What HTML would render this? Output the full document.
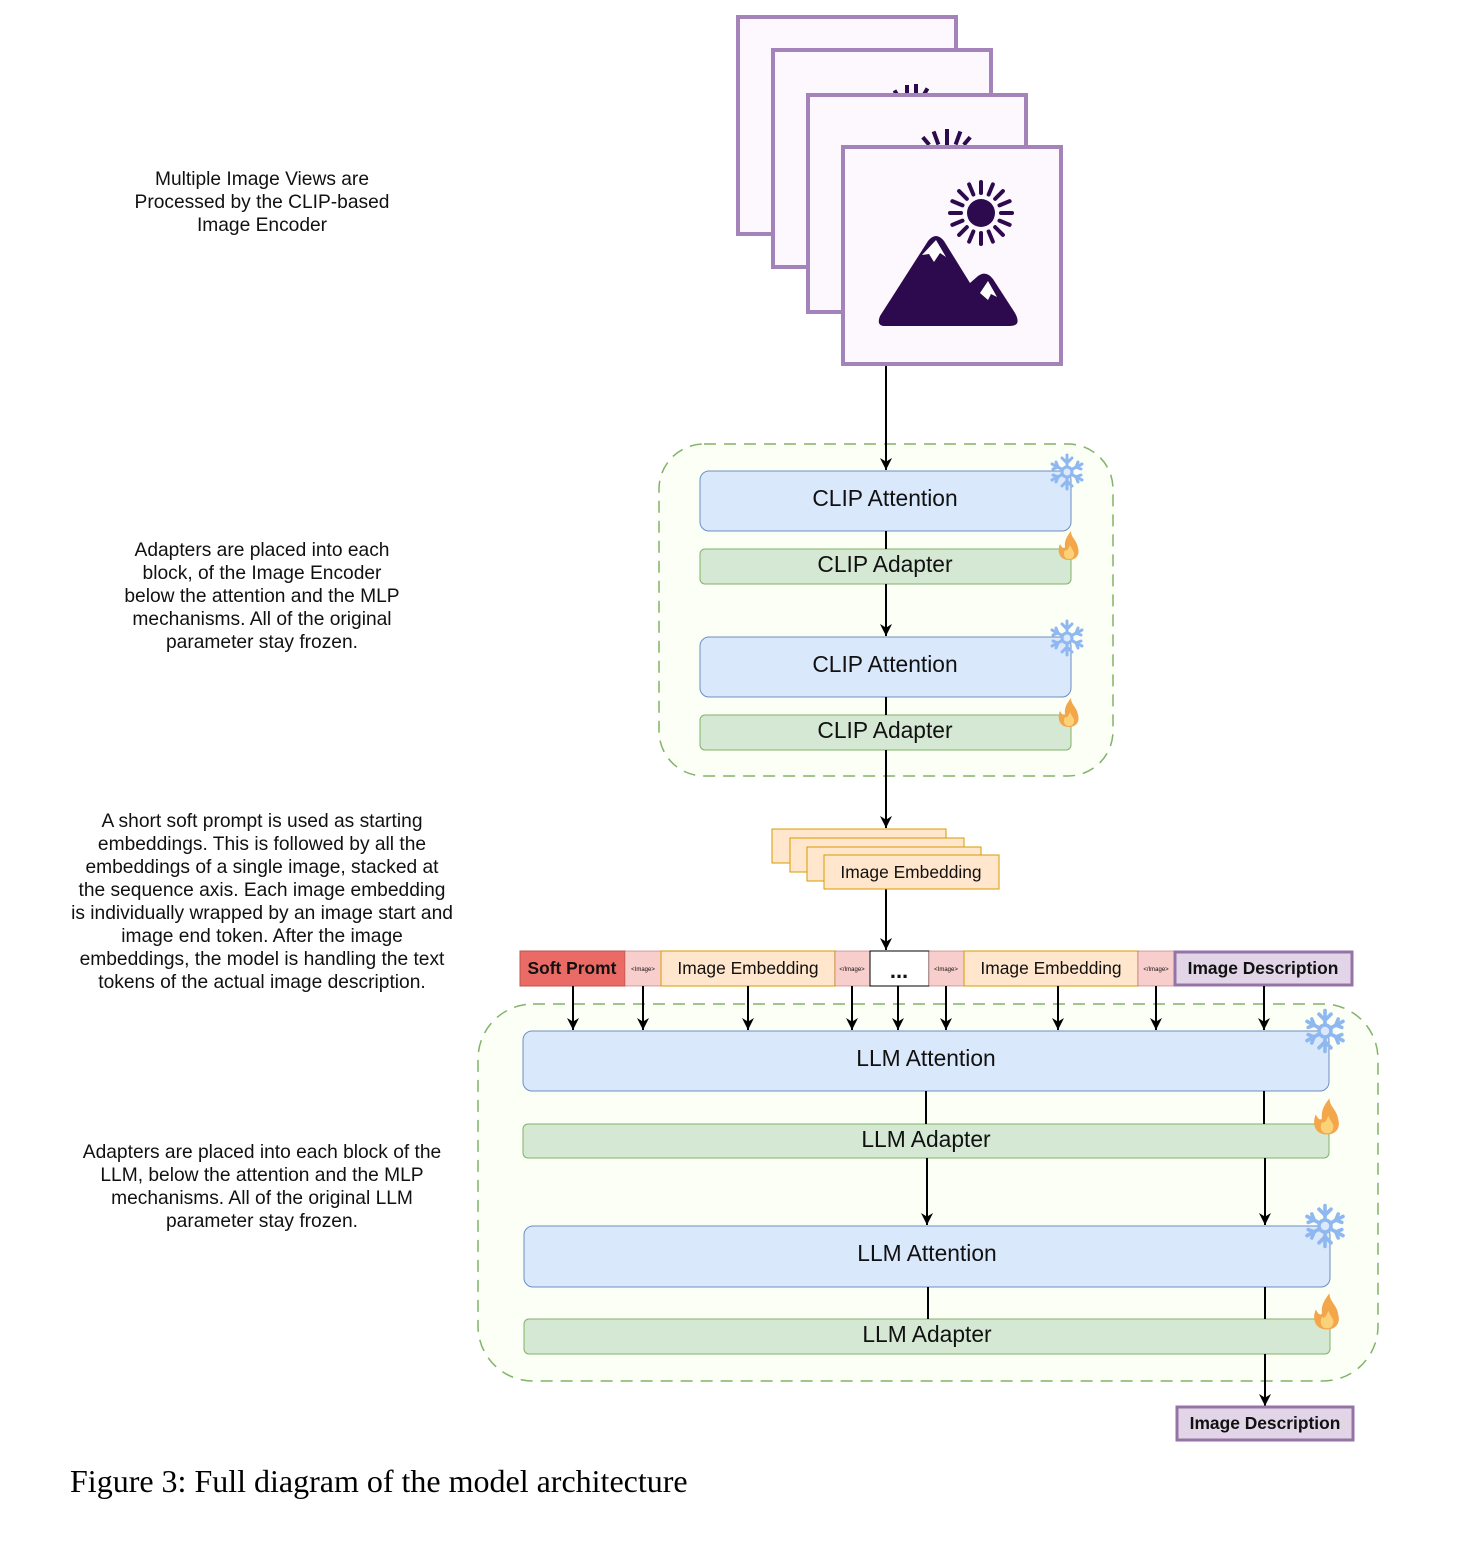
<!DOCTYPE html>
<html><head><meta charset="utf-8"><style>
body{margin:0;background:#fff;}
svg{display:block}
text{font-family:"Liberation Sans",sans-serif;}
</style></head><body>
<svg width="1480" height="1542" viewBox="0 0 1480 1542" xmlns="http://www.w3.org/2000/svg">
<defs>
<marker id="a" markerWidth="12" markerHeight="12" refX="10" refY="5" orient="auto" markerUnits="userSpaceOnUse" viewBox="0 0 10 10">
<path d="M0,0 L10,5 L0,10 L3,5 Z" fill="#000"/>
</marker>
<g id="snow" stroke="#8fb8f0" stroke-width="3" fill="none" stroke-linecap="round">
<line x1="0" y1="-17" x2="0" y2="17"/><line x1="-15" y1="-8" x2="15" y2="8"/><line x1="-15" y1="8" x2="15" y2="-8"/>
<path d="M-5,-14 L0,-9 L5,-14 M-5,14 L0,9 L5,14 M-14,-3 L-9,-5 L-11,-10 M14,3 L9,5 L11,10 M-14,3 L-9,5 L-11,10 M14,-3 L9,-5 L11,-10"/>
<circle r="5" fill="#dce8fb"/>
</g>
<g id="fire">
<path d="M0,14 C-10,14 -12,5 -9,-2 C-7,2 -5,3 -4,1 C-5,-6 -1,-11 2,-15 C2,-8 8,-6 9,2 C11,9 7,14 0,14 Z" fill="#f3a64a"/>
<path d="M0,13 C-5,13 -6,8 -4,4 C-2,6 0,2 1,-1 C3,4 6,6 5,9 C4,12 3,13 0,13 Z" fill="#fbd27a"/>
</g>
<g id="img">
<rect x="0" y="0" width="218" height="217" fill="#fdf8fd" stroke="#a383b9" stroke-width="4"/>
</g>
</defs>

<g font-size="19.2" text-anchor="middle" fill="#111">
<text x="262" y="185">Multiple Image Views are</text>
<text x="262" y="208">Processed by the CLIP-based</text>
<text x="262" y="231">Image Encoder</text>
<text x="262" y="556">Adapters are placed into each</text>
<text x="262" y="579">block, of the Image Encoder</text>
<text x="262" y="602">below the attention and the MLP</text>
<text x="262" y="625">mechanisms. All of the original</text>
<text x="262" y="648">parameter stay frozen.</text>
<text x="262" y="827">A short soft prompt is used as starting</text>
<text x="262" y="850">embeddings. This is followed by all the</text>
<text x="262" y="873">embeddings of a single image, stacked at</text>
<text x="262" y="896">the sequence axis. Each image embedding</text>
<text x="262" y="919">is individually wrapped by an image start and</text>
<text x="262" y="942">image end token. After the image</text>
<text x="262" y="965">embeddings, the model is handling the text</text>
<text x="262" y="988">tokens of the actual image description.</text>
<text x="262" y="1158">Adapters are placed into each block of the</text>
<text x="262" y="1181">LLM, below the attention and the MLP</text>
<text x="262" y="1204">mechanisms. All of the original LLM</text>
<text x="262" y="1227">parameter stay frozen.</text>
</g>

<use href="#img" x="738" y="17"/>
<use href="#img" x="773" y="50"/>
<g fill="#2d0a4e"><rect x="894" y="90" width="4" height="6" transform="rotate(-30 896 93)"/><rect x="905" y="85" width="4" height="10"/><rect x="914" y="84" width="4" height="11"/><rect x="924" y="88" width="4" height="7" transform="rotate(30 926 91)"/></g>
<use href="#img" x="808" y="95"/>
<g fill="#2d0a4e"><rect x="924" y="136" width="4" height="10" transform="rotate(-40 926 141)"/><rect x="934" y="131" width="4" height="14" transform="rotate(-20 936 138)"/><rect x="945" y="129" width="4" height="16"/><rect x="956" y="131" width="4" height="14" transform="rotate(20 958 138)"/><rect x="965" y="136" width="4" height="10" transform="rotate(40 967 141)"/></g>
<use href="#img" x="843" y="147"/>
<g transform="translate(981,213)" stroke="#2d0a4e" stroke-width="4" stroke-linecap="round">
<circle r="14" fill="#2d0a4e" stroke="none"/>
<g id="ray"><line x1="0" y1="-20" x2="0" y2="-31"/></g>
<use href="#ray" transform="rotate(22.5)"/><use href="#ray" transform="rotate(45)"/><use href="#ray" transform="rotate(67.5)"/><use href="#ray" transform="rotate(90)"/><use href="#ray" transform="rotate(112.5)"/><use href="#ray" transform="rotate(135)"/><use href="#ray" transform="rotate(157.5)"/><use href="#ray" transform="rotate(180)"/><use href="#ray" transform="rotate(202.5)"/><use href="#ray" transform="rotate(225)"/><use href="#ray" transform="rotate(247.5)"/><use href="#ray" transform="rotate(270)"/><use href="#ray" transform="rotate(292.5)"/><use href="#ray" transform="rotate(315)"/><use href="#ray" transform="rotate(337.5)"/>
</g>
<path d="M885,326 Q876,326 880,316 L928,241 Q936,231 944,241 L970,283 L978,276 Q986,270 993,279 L1015,313 Q1022,326 1010,326 Z" fill="#2d0a4e"/>
<path d="M922,255 L936,240 L946,257 L940,253 L934,262 L929,254 Z" fill="#fff"/>
<path d="M980,293 L988,281 L997,297 L991,294 L988,300 Z" fill="#fff"/>

<rect x="659" y="444" width="454" height="332" rx="45" fill="#fbfff6" stroke="#82b366" stroke-width="1.5" stroke-dasharray="12,8"/>
<g stroke="#000" stroke-width="2" fill="none">
<line x1="886" y1="366" x2="886" y2="470" marker-end="url(#a)"/>
</g>
<rect x="700" y="471" width="371" height="60" rx="9" fill="#dae8fc" stroke="#6c8ebf"/>
<rect x="700" y="549" width="371" height="35" rx="5" fill="#d5e8d4" stroke="#82b366"/>
<rect x="700" y="637" width="371" height="60" rx="9" fill="#dae8fc" stroke="#6c8ebf"/>
<rect x="700" y="715" width="371" height="35" rx="5" fill="#d5e8d4" stroke="#82b366"/>
<g font-size="22.8" text-anchor="middle" fill="#111">
<text x="885" y="506">CLIP Attention</text><text x="885" y="572">CLIP Adapter</text>
<text x="885" y="672">CLIP Attention</text><text x="885" y="738">CLIP Adapter</text>
</g>
<use href="#snow" x="1067" y="472"/><use href="#fire" x="1069" y="546"/>
<use href="#snow" x="1067" y="638"/><use href="#fire" x="1069" y="713"/>
<g stroke="#000" stroke-width="2" fill="none">
<line x1="886" y1="531" x2="886" y2="549"/>
<line x1="886" y1="584" x2="886" y2="636" marker-end="url(#a)"/>
<line x1="886" y1="697" x2="886" y2="715"/>
<line x1="886" y1="750" x2="886" y2="828" marker-end="url(#a)"/>
<line x1="886" y1="889" x2="886" y2="950" marker-end="url(#a)"/>
</g>

<g fill="#ffe6cc" stroke="#d79b00" stroke-width="1">
<rect x="772" y="829" width="174" height="34"/>
<rect x="790" y="838" width="174" height="34"/>
<rect x="807" y="847" width="174" height="34"/>
<rect x="824" y="855" width="175" height="34"/>
</g>
<text x="911" y="878" font-size="17.4" text-anchor="middle" fill="#111">Image Embedding</text>

<rect x="520" y="951" width="105" height="35" fill="#ea6b66" stroke="#b85450"/>
<rect x="625" y="951" width="36" height="35" fill="#f8cecc" stroke="#b85450" stroke-width="0.5"/>
<rect x="661" y="951" width="174" height="35" fill="#ffe6cc" stroke="#d79b00" stroke-width="1"/>
<rect x="835" y="951" width="35" height="35" fill="#f8cecc" stroke="#b85450" stroke-width="0.5"/>
<rect x="870" y="951" width="59" height="35" fill="#fff" stroke="#000" stroke-width="1"/>
<rect x="929" y="951" width="35" height="35" fill="#f8cecc" stroke="#b85450" stroke-width="0.5"/>
<rect x="964" y="951" width="174" height="35" fill="#ffe6cc" stroke="#d79b00" stroke-width="1"/>
<rect x="1138" y="951" width="36" height="35" fill="#f8cecc" stroke="#b85450" stroke-width="0.5"/>
<rect x="1175" y="952" width="177" height="33" fill="#e1d5e7" stroke="#9673a6" stroke-width="3"/>
<g text-anchor="middle" fill="#111">
<text x="572" y="974" font-size="17.4" font-weight="bold">Soft Promt</text>
<text x="643" y="971" font-size="6">&lt;Image&gt;</text>
<text x="748" y="974" font-size="17.4">Image Embedding</text>
<text x="852" y="971" font-size="6">&lt;/Image&gt;</text>
<text x="899" y="978" font-size="22" font-weight="bold">...</text>
<text x="946" y="971" font-size="6">&lt;Image&gt;</text>
<text x="1051" y="974" font-size="17.4">Image Embedding</text>
<text x="1156" y="971" font-size="6">&lt;/Image&gt;</text>
<text x="1263" y="974" font-size="17.4" font-weight="bold">Image Description</text>
</g>

<rect x="478" y="1004" width="900" height="377" rx="55" fill="#fbfff6" stroke="#82b366" stroke-width="1.5" stroke-dasharray="12,8"/>
<g stroke="#000" stroke-width="2" fill="none">
<line x1="573" y1="986" x2="573" y2="1030" marker-end="url(#a)"/>
<line x1="643" y1="986" x2="643" y2="1030" marker-end="url(#a)"/>
<line x1="748" y1="986" x2="748" y2="1030" marker-end="url(#a)"/>
<line x1="852" y1="986" x2="852" y2="1030" marker-end="url(#a)"/>
<line x1="898" y1="986" x2="898" y2="1030" marker-end="url(#a)"/>
<line x1="946" y1="986" x2="946" y2="1030" marker-end="url(#a)"/>
<line x1="1058" y1="986" x2="1058" y2="1030" marker-end="url(#a)"/>
<line x1="1156" y1="986" x2="1156" y2="1030" marker-end="url(#a)"/>
<line x1="1264" y1="986" x2="1264" y2="1030" marker-end="url(#a)"/>
</g>
<rect x="523" y="1031" width="806" height="60" rx="9" fill="#dae8fc" stroke="#6c8ebf"/>
<rect x="523" y="1124" width="806" height="34" rx="5" fill="#d5e8d4" stroke="#82b366"/>
<rect x="524" y="1226" width="806" height="61" rx="9" fill="#dae8fc" stroke="#6c8ebf"/>
<rect x="524" y="1319" width="806" height="35" rx="5" fill="#d5e8d4" stroke="#82b366"/>
<g font-size="22.8" text-anchor="middle" fill="#111">
<text x="926" y="1066">LLM Attention</text><text x="926" y="1147">LLM Adapter</text>
<text x="927" y="1261">LLM Attention</text><text x="927" y="1342">LLM Adapter</text>
</g>
<g transform="translate(1325,1031) scale(1.2)"><use href="#snow"/></g>
<g transform="translate(1327,1117) scale(1.25)"><use href="#fire"/></g>
<g transform="translate(1325,1226) scale(1.2)"><use href="#snow"/></g>
<g transform="translate(1327,1312) scale(1.25)"><use href="#fire"/></g>
<g stroke="#000" stroke-width="2" fill="none">
<line x1="926" y1="1091" x2="926" y2="1124"/>
<line x1="927" y1="1158" x2="927" y2="1225" marker-end="url(#a)"/>
<line x1="1264" y1="1091" x2="1264" y2="1124"/>
<line x1="1265" y1="1158" x2="1265" y2="1225" marker-end="url(#a)"/>
<line x1="928" y1="1287" x2="928" y2="1319"/>
<line x1="1265" y1="1287" x2="1265" y2="1319"/>
<line x1="1265" y1="1354" x2="1265" y2="1406" marker-end="url(#a)"/>
</g>
<rect x="1177" y="1407" width="176" height="33" fill="#e1d5e7" stroke="#9673a6" stroke-width="3"/>
<text x="1265" y="1429" font-size="17.4" font-weight="bold" text-anchor="middle" fill="#111">Image Description</text>

<text x="70" y="1492" font-size="32" style="font-family:'Liberation Serif',serif" fill="#000">Figure 3: Full diagram of the model architecture</text>
</svg>
</body></html>
